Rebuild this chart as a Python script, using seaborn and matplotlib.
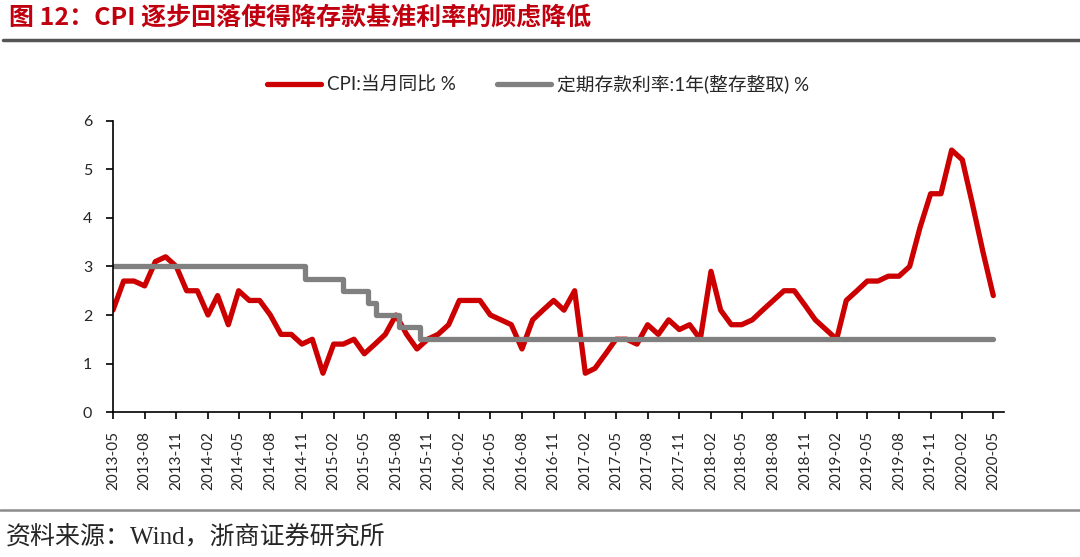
import pandas as pd
import numpy as np
import seaborn as sns
import matplotlib.pyplot as plt

# CPI yoy, monthly 2013-05 .. 2020-05
months = pd.date_range("2013-05-01", "2020-05-01", freq="MS")
cpi = [2.1, 2.7, 2.7, 2.6, 3.1, 3.2, 3.0, 2.5,
       2.5, 2.0, 2.4, 1.8, 2.5, 2.3, 2.3, 2.0, 1.6, 1.6, 1.4, 1.5,
       0.8, 1.4, 1.4, 1.5, 1.2, 1.4, 1.6, 2.0, 1.6, 1.3, 1.5, 1.6,
       1.8, 2.3, 2.3, 2.3, 2.0, 1.9, 1.8, 1.3, 1.9, 2.1, 2.3, 2.1,
       2.5, 0.8, 0.9, 1.2, 1.5, 1.5, 1.4, 1.8, 1.6, 1.9, 1.7, 1.8,
       1.5, 2.9, 2.1, 1.8, 1.8, 1.9, 2.1, 2.3, 2.5, 2.5, 2.2, 1.9,
       1.7, 1.5, 2.3, 2.5, 2.7, 2.7, 2.8, 2.8, 3.0, 3.8, 4.5, 4.5,
       5.4, 5.2, 4.3, 3.3, 2.4]

# 1-year deposit benchmark rate, change dates
rate_dates = pd.to_datetime(["2013-05-01", "2014-11-10", "2015-03-01", "2015-05-12",
                             "2015-06-05", "2015-08-10", "2015-10-10", "2020-05-01"])
rate = [3.0, 2.75, 2.5, 2.25, 2.0, 1.75, 1.5, 1.5]

cpi_df = pd.DataFrame({"date": months, "value": cpi})
rate_df = pd.DataFrame({"date": rate_dates, "value": rate})

sns.set_style("white")
plt.rcParams['font.family'] = ['Lato', 'Noto Sans CJK SC', 'DejaVu Sans']

fig = plt.figure(figsize=(10.8, 5.57), dpi=100)
ax = fig.add_axes([0.1046, 0.2603, 0.825, 0.5225])

sns.lineplot(data=cpi_df, x="date", y="value", ax=ax, color="#CC0000",
             linewidth=3.8, label="CPI:当月同比 %")
sns.lineplot(data=rate_df, x="date", y="value", ax=ax, color="#808080",
             linewidth=3.8, drawstyle="steps-post", label="定期存款利率:1年(整存整取) %")

ax.set_ylim(0, 6)
ax.set_yticks(range(0, 7))
ax.set_xlim(months[0], pd.Timestamp("2020-06-01"))
tick_dates = months[::3]
ax.set_xticks(tick_dates)
ax.set_xticklabels([d.strftime("%Y-%m") for d in tick_dates], rotation=90)
ax.tick_params(axis="both", direction="out", length=5, width=1.2, color="black",
               left=True, bottom=True)
ax.tick_params(axis="y", labelsize=11.5, pad=10)
ax.tick_params(axis="x", labelsize=11, pad=8.5)
ax.set_xlabel("")
ax.set_ylabel("")
for s in ["top", "right"]:
    ax.spines[s].set_visible(False)
for s in ["left", "bottom"]:
    ax.spines[s].set_color("black")
    ax.spines[s].set_linewidth(1.2)

ax.legend(loc="center", bbox_to_anchor=(0.498, 0.849), bbox_transform=fig.transFigure,
          ncol=2, frameon=False, fontsize=13.5, handlelength=2.9, columnspacing=2.2,
          handletextpad=0.3)

# title, rules, source
fig.text(0.008, 0.969, "图 12：CPI 逐步回落使得降存款基准利率的顾虑降低",
         fontsize=18, fontweight="bold", color="#C0000F", va="center",
         family=['Noto Sans CJK SC', 'DejaVu Sans'])
fig.add_artist(plt.Line2D([0.003, 1.0], [0.928, 0.928], color="#555555", linewidth=2.5))
fig.add_artist(plt.Line2D([0.0, 1.0], [0.084, 0.084], color="#8c8c8c", linewidth=1.8))
fig.text(0.005, 0.036, "资料来源：Wind，浙商证券研究所", fontsize=18, va="center",
         family=['Liberation Serif', 'Noto Sans CJK SC', 'DejaVu Sans'])

fig.savefig("out.png", dpi=100)
